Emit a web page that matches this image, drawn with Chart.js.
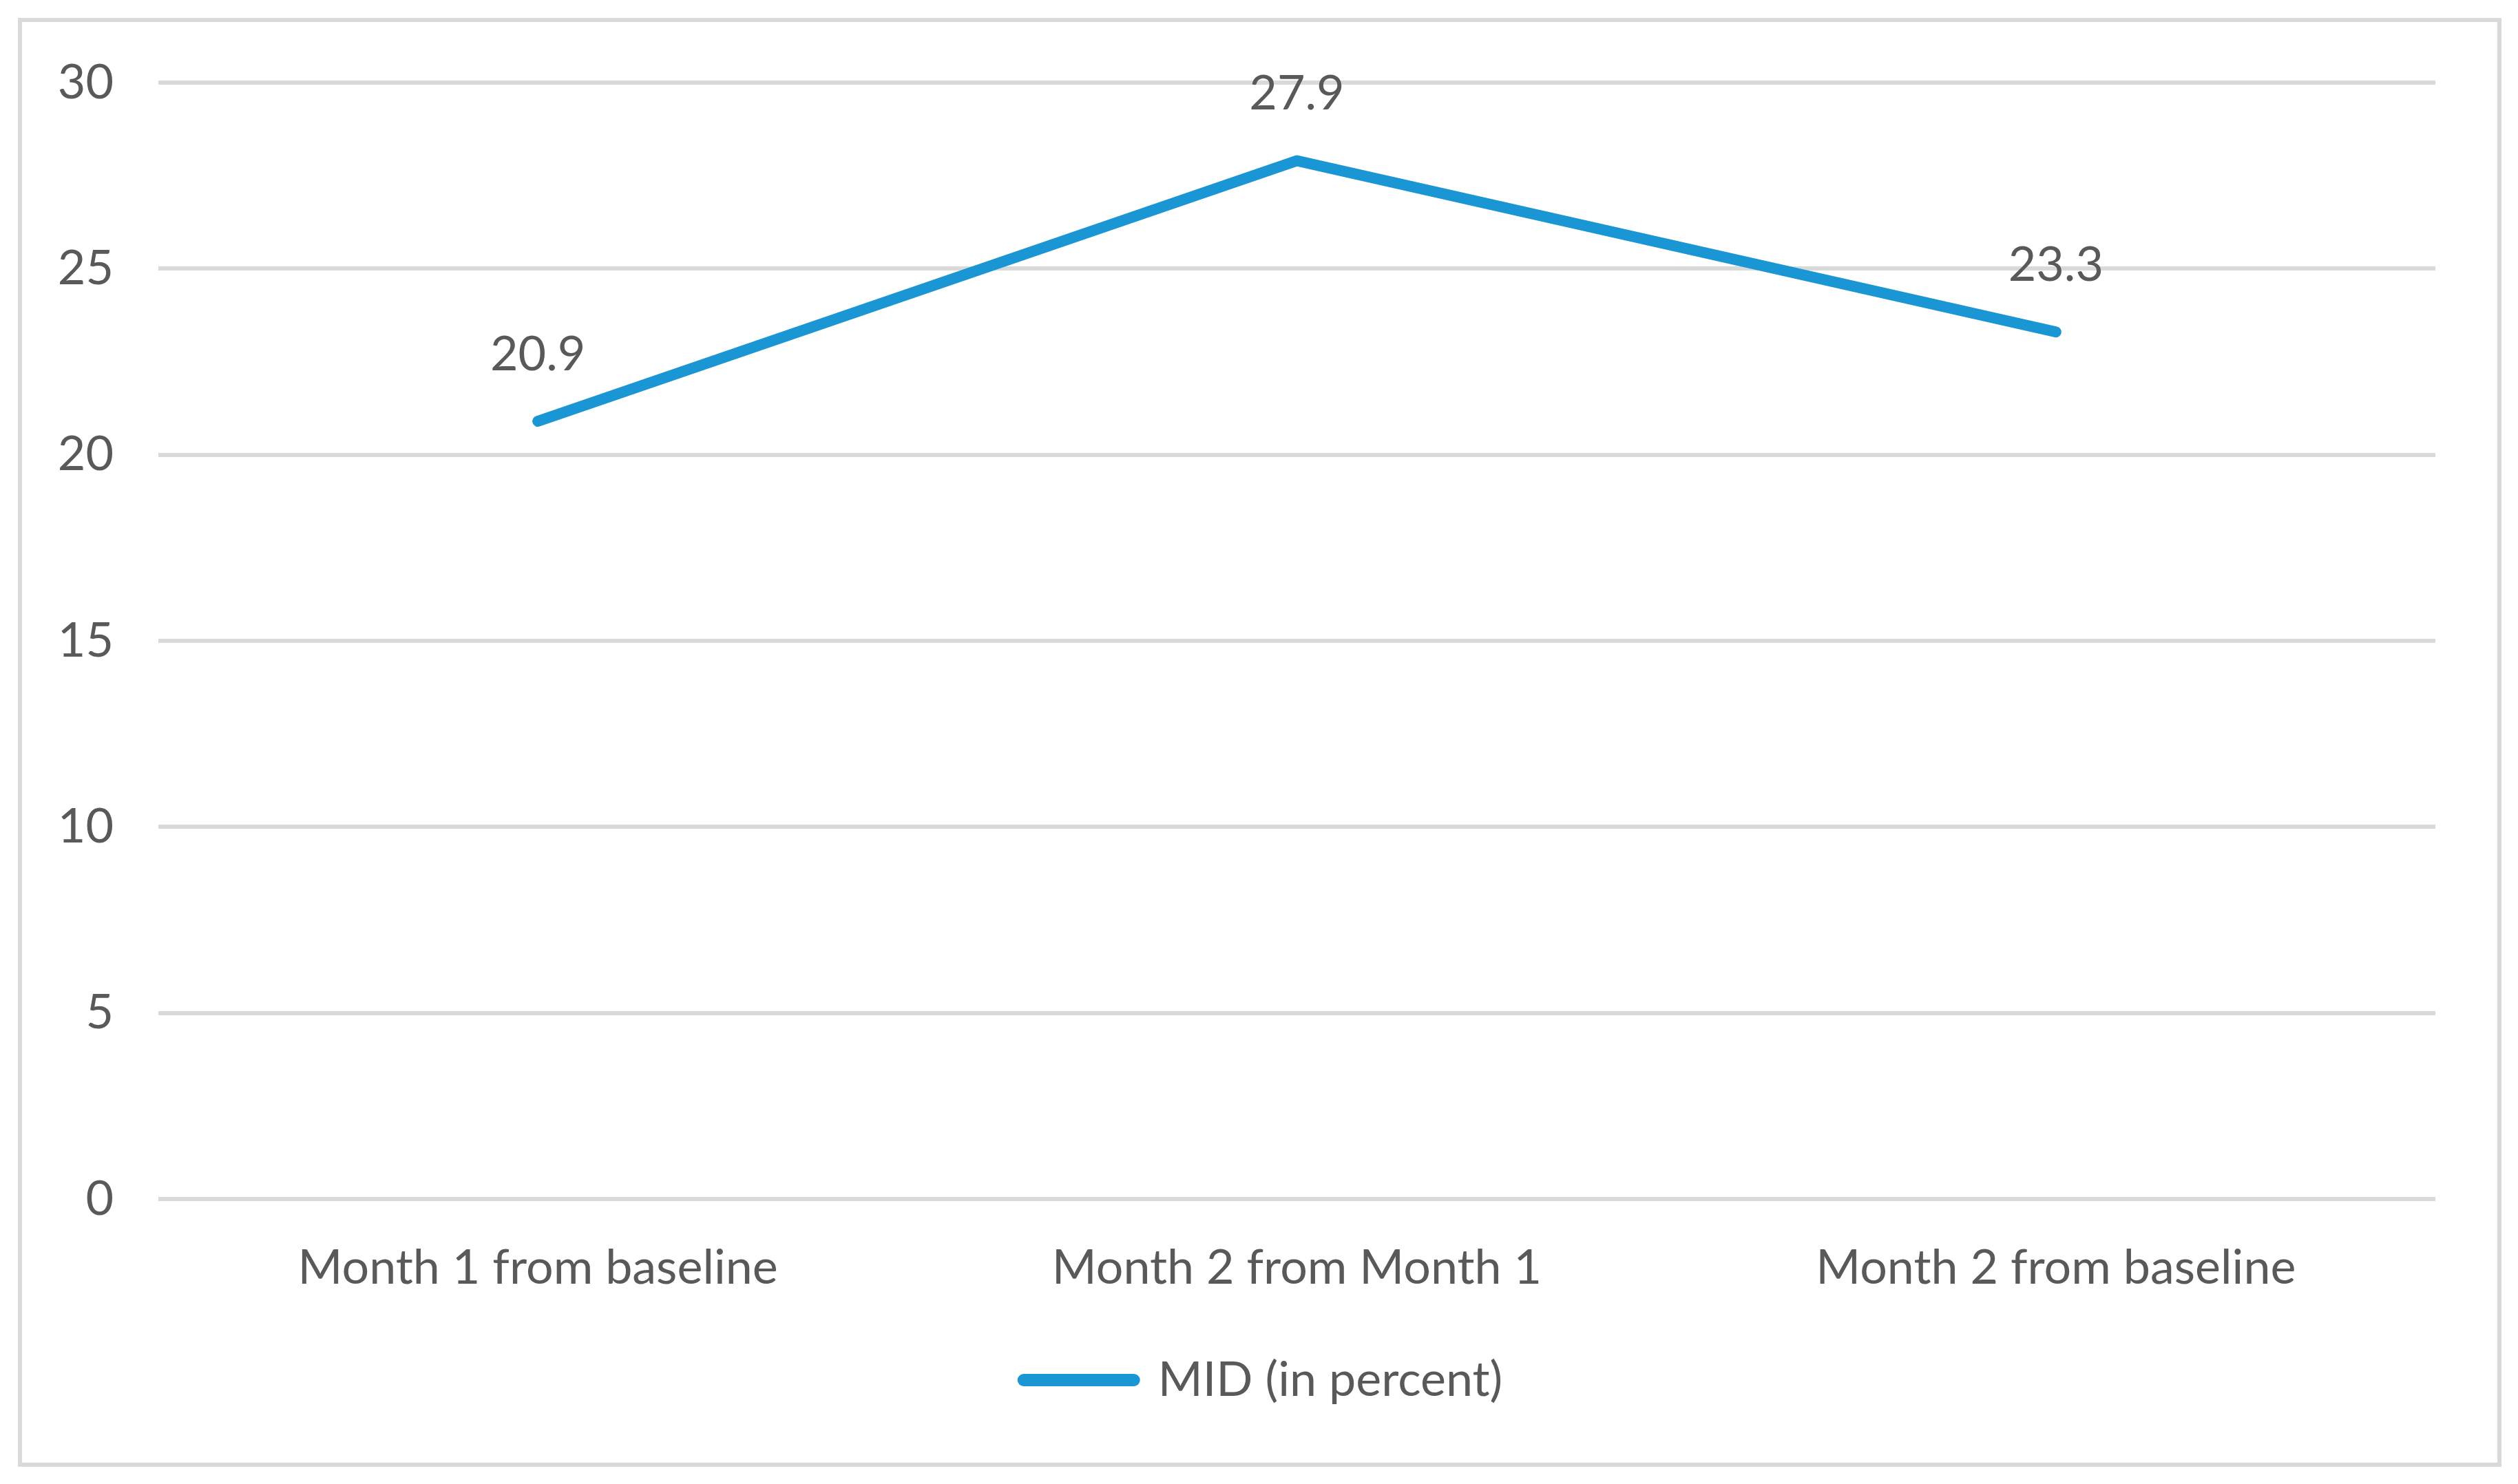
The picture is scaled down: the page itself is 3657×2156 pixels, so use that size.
<!DOCTYPE html>
<html>
<head>
<meta charset="utf-8">
<script src="https://cdn.jsdelivr.net/npm/chart.js@4"></script>
<style>
  html, body { margin: 0; padding: 0; background: #fff; }
  #frame {
    position: absolute; left: 26px; top: 26px;
    width: 3607px; height: 2105px;
    box-sizing: border-box; border: 6px solid #d9d9d9; background: #fff;
  }
  #chart { display: block; }
</style>
</head>
<body>
<div id="frame"><canvas id="chart" width="3595" height="2093"></canvas></div>
<script>
const categories = ['Month 1 from baseline', 'Month 2 from Month 1', 'Month 2 from baseline'];
const midValues = [20.9, 27.9, 23.3];
const seriesName = 'MID (in percent)';
const yTicks = [0, 5, 10, 15, 20, 25, 30];

const textColor = '#595959';
const lineColor = '#1b96d5';
const fontFamily = 'Lato, "Open Sans", sans-serif';

// value labels above each point
const valueLabels = {
    id: 'valueLabels',
    afterDatasetsDraw(chart) {
        const ctx = chart.ctx;
        const meta = chart.getDatasetMeta(0);
        ctx.save();
        ctx.font = `70px ${fontFamily}`;
        ctx.fillStyle = textColor;
        ctx.textAlign = 'center';
        ctx.textBaseline = 'middle';
        meta.data.forEach((pt, i) => {
            ctx.fillText(midValues[i].toFixed(1), pt.x, pt.y - 97);
        });
        ctx.restore();
    }
};

// let the y tick labels run into the left padding instead of being clipped
const widenYAxis = {
    id: 'widenYAxis',
    afterLayout(chart) { chart.scales.y.left = 0; }
};

Chart.defaults.font.family = fontFamily;
Chart.defaults.color = textColor;

new Chart(document.getElementById('chart').getContext('2d'), {
    type: 'line',
    data: {
        labels: categories,
        datasets: [{
            label: seriesName,
            data: midValues,
            borderColor: lineColor,
            backgroundColor: lineColor,
            borderWidth: 16,
            borderCapStyle: 'round',
            borderJoinStyle: 'round',
            pointRadius: 0,
            tension: 0
        }]
    },
    options: {
        responsive: false,
        animation: false,
        layout: { padding: { left: 100, right: 90, top: 88, bottom: 75 } },
        scales: {
            x: {
                offset: true,
                grid: { display: false },
                border: { display: false },
                ticks: { font: { size: 70 }, color: textColor, padding: 50, maxRotation: 0 },
                afterFit: (s) => { s.height = 218; }
            },
            y: {
                min: 0,
                max: 30,
                afterBuildTicks: (s) => { s.ticks = yTicks.map(v => ({ value: v })); },
                grid: { color: '#d9d9d9', lineWidth: 6, drawTicks: false },
                border: { display: false },
                // small lineHeight keeps the top label from pushing the plot area down
                ticks: { font: { size: 70, lineHeight: 0.6 }, color: textColor, padding: 65 },
                afterFit: (s) => { s.width = 98; }
            }
        },
        plugins: {
            tooltip: { enabled: false },
            legend: {
                position: 'bottom',
                labels: {
                    usePointStyle: true,
                    pointStyle: 'line',
                    pointStyleWidth: 160,
                    font: { size: 70 },
                    color: textColor,
                    generateLabels: (chart) => {
                        const items = Chart.defaults.plugins.legend.labels.generateLabels(chart);
                        items.forEach(it => { it.lineWidth = 18; it.lineCap = 'round'; it.strokeStyle = lineColor; });
                        return items;
                    }
                }
            }
        }
    },
    plugins: [valueLabels, widenYAxis]
});
</script>
</body>
</html>
